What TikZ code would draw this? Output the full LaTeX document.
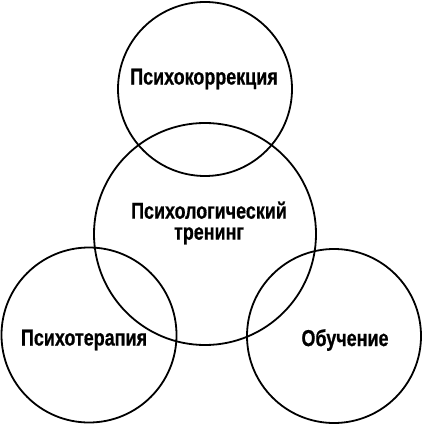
\documentclass[tikz,border=0pt]{standalone}
\usepackage{fontspec}
\setmainfont{Liberation Sans}[FakeStretch=0.78]
\newfontfamily\heavyfont{Liberation Sans}[FakeStretch=0.78, FakeBold=0.6]
\usepackage{tikz}
\usetikzlibrary{positioning}
\tikzset{
x=1pt, y=-1pt, % picture units follow the pixel grid
ring/.style={circle, draw, line width=1.8pt, inner sep=0pt}, % sets the look of every circle
lbl/.style={font=\heavyfont\bfseries\fontsize{23}{21}\selectfont, align=center, inner sep=0pt}, % sets the look of the texts
}
\begin{document}
\begin{tikzpicture}
            \useasboundingbox (0,0) rectangle (424,427);
            \node[ring, minimum size=174pt] (korr) at (205,89) {};
            \node[ring, minimum size=222pt] (tren) at (205,234) {};
            \node[ring, minimum size=175pt] (ter) at (89,335) {};
            \node[ring, minimum size=174pt] (obuch) at (334,336) {};
            \node[lbl] (korrtext) at (204,79) {Психокоррекция};
            \node[lbl] (trentext) at (209,223) {Психологический\\тренинг};
            \node[lbl] (tertext) at (84,340) {Психотерапия};
            \node[lbl] (obuchtext) at (345,340) {Обучение};
        \end{tikzpicture}
\end{document}
